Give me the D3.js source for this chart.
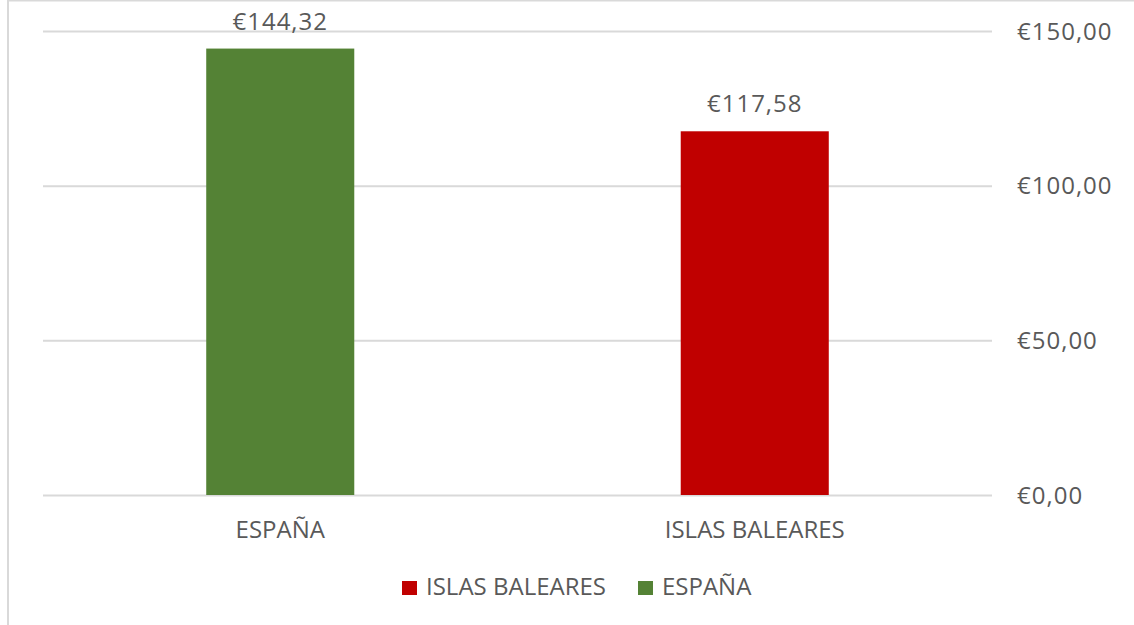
<!DOCTYPE html>
<html>
<head>
<meta charset="utf-8">
<script src="https://cdn.jsdelivr.net/npm/d3@7"></script>
<style>
  body { margin: 0; background: #fff; }
  text { font-family: "Open Sans", sans-serif; fill: #595959; }
</style>
</head>
<body>
<div id="chart"></div>
<script>
// data
const categories = ["ESPAÑA", "ISLAS BALEARES"];
const values = [144.32, 117.58];
const colors = ["#548235", "#c00000"];
const legendOrder = ["ISLAS BALEARES", "ESPAÑA"];
const yTicks = [0, 50, 100, 150];

const width = 1134, height = 625;
const plot = { left: 43, right: 992, top: 31, bottom: 495 };

const locale = d3.formatLocale({ decimal: ",", thousands: ".", grouping: [3], currency: ["€", ""] });
const euro = locale.format("$.2f");

const svg = d3.select("#chart").append("svg")
    .attr("width", width)
    .attr("height", height);

svg.append("rect")
    .attr("width", width).attr("height", height)
    .attr("fill", "#fff");

// chart border (only left/top visible in the shot)
svg.append("rect")
    .attr("x", 8).attr("y", 0.5)
    .attr("width", width + 20).attr("height", height + 20)
    .attr("fill", "none")
    .attr("stroke", "#d9d9d9")
    .attr("stroke-width", 2);

const x = d3.scaleBand()
    .domain(categories)
    .range([plot.left, plot.right]);

const y = d3.scaleLinear()
    .domain([0, 150])
    .range([plot.bottom, plot.top]);

const barW = x.bandwidth() * 0.312;

// y axis on the right, with gridlines
const yAxis = svg.append("g")
    .attr("transform", `translate(${plot.right},0)`)
    .call(d3.axisRight(y).tickValues(yTicks).tickFormat(euro)
        .tickSize(-(plot.right - plot.left)).tickPadding(25));
yAxis.select(".domain").remove();
yAxis.selectAll("line").attr("stroke", "#d9d9d9").attr("stroke-width", 2);
yAxis.selectAll("text")
    .attr("font-size", 24)
    .attr("font-family", null)
    .attr("fill", null)
    .attr("letter-spacing", 1)
    .attr("dy", "0.34em");

// bars
svg.selectAll(".bar")
    .data(categories)
    .join("rect")
    .attr("class", "bar")
    .attr("x", d => x(d) + x.bandwidth() / 2 - barW / 2)
    .attr("width", barW)
    .attr("y", (d, i) => y(values[i]))
    .attr("height", (d, i) => y(0) - y(values[i]))
    .attr("fill", (d, i) => colors[i]);

// value labels
svg.selectAll(".val")
    .data(categories)
    .join("text")
    .attr("class", "val")
    .attr("x", d => x(d) + x.bandwidth() / 2)
    .attr("y", (d, i) => y(values[i]) - 19)
    .attr("text-anchor", "middle")
    .attr("font-size", 24)
    .attr("letter-spacing", 1)
    .text((d, i) => euro(values[i]));

// x axis labels
const xAxis = svg.append("g")
    .attr("transform", `translate(0,${plot.bottom})`)
    .call(d3.axisBottom(x).tickSize(0));
xAxis.select(".domain").remove();
xAxis.selectAll("text")
    .attr("font-size", 24)
    .attr("font-family", null)
    .attr("fill", null)
    .attr("y", 43)
    .attr("dy", 0);

// legend
const legendX = [402, 638];
const legend = svg.selectAll(".legend")
    .data(legendOrder)
    .join("g")
    .attr("class", "legend")
    .attr("transform", (d, i) => `translate(${legendX[i]},581)`);
legend.append("rect")
    .attr("width", 15).attr("height", 14)
    .attr("fill", d => colors[categories.indexOf(d)]);
legend.append("text")
    .attr("x", 24).attr("y", 14)
    .attr("font-size", 24)
    .text(d => d);
</script>
</body>
</html>
